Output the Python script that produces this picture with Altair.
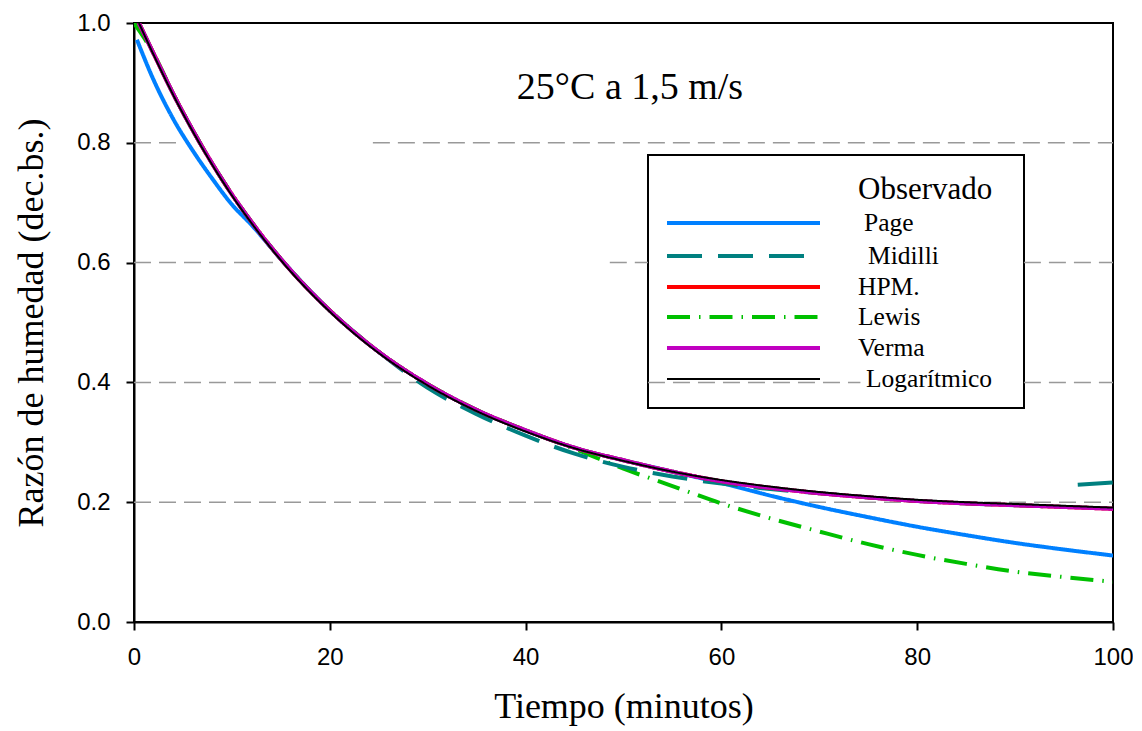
import altair as alt
import pandas as pd

# ---------------- data ----------------
t_std = [0.5, 2, 4, 6, 8, 10, 12, 15, 20, 25, 30, 35, 40, 45, 50, 55, 60, 65, 70, 75, 80, 85, 90, 95, 100]

logaritmico = [1.000, 0.947, 0.880, 0.819, 0.763, 0.712, 0.666, 0.604, 0.518, 0.449, 0.395, 0.352, 0.318,
               0.290, 0.269, 0.251, 0.237, 0.226, 0.217, 0.210, 0.204, 0.200, 0.197, 0.194, 0.191]
verma = [1.000, 0.949, 0.882, 0.821, 0.765, 0.714, 0.668, 0.606, 0.520, 0.451, 0.397, 0.354, 0.320,
         0.291, 0.270, 0.251, 0.235, 0.224, 0.215, 0.208, 0.202, 0.198, 0.195, 0.192, 0.189]
hpm = [1.000, 0.949, 0.882, 0.821, 0.765, 0.714, 0.668, 0.606, 0.520, 0.451, 0.397, 0.354, 0.320,
       0.291, 0.270, 0.251, 0.235, 0.224, 0.215, 0.208, 0.202, 0.198, 0.195, 0.192, 0.189]

t_page = [0.3, 2, 4, 6, 8, 10, 12, 15, 20, 25, 30, 35, 40, 45, 50, 55, 60, 65, 70, 75, 80, 85, 90, 95, 100]
page = [0.972, 0.905, 0.840, 0.787, 0.740, 0.697, 0.663, 0.606, 0.520, 0.451, 0.397, 0.354, 0.320,
        0.291, 0.270, 0.251, 0.232, 0.211, 0.192, 0.175, 0.159, 0.145, 0.132, 0.121, 0.111]

t_lewis = [0, 2, 4, 6, 8, 10, 12, 15, 20, 25, 30, 35, 40, 45, 50, 55, 60, 65, 70, 75, 80, 85, 90, 95, 100]
lewis = [1.000, 0.949, 0.882, 0.821, 0.765, 0.714, 0.668, 0.606, 0.520, 0.451, 0.397, 0.354, 0.320,
         0.289, 0.256, 0.227, 0.198, 0.173, 0.151, 0.130, 0.112, 0.097, 0.084, 0.075, 0.067]

t_midilli = [0.5, 2, 4, 6, 8, 10, 12, 15, 20, 25, 30, 35, 40, 45, 50, 55, 60, 65, 70, 75, 80, 85, 90, 95,
             96.4, 100]
midilli = [1.000, 0.949, 0.882, 0.821, 0.765, 0.714, 0.668, 0.606, 0.520, 0.451, 0.391, 0.347, 0.311,
           0.281, 0.259, 0.243, 0.231, 0.222, 0.215, 0.208, 0.202, 0.198, 0.195, 0.192,
           0.229, 0.233]
midilli_seg = [1] * 24 + [2] * 2

# dashed reference lines (visible pieces)
grid_y = [0.8, 0.8, 0.6, 0.6, 0.6, 0.4, 0.4, 0.4, 0.2]
grid_x1 = [0, 24.4, 0, 48.6, 90.9, 0, 52.5, 90.9, 0]
grid_x2 = [5.0, 100, 14.2, 52.5, 100, 28.9, 74.2, 100, 100]

legend_names = ["Page", "Midilli", "HPM.", "Lewis", "Verma", "Logarítmico"]
legend_title = "Observado"
x_ticks = [0, 20, 40, 60, 80, 100]
y_ticks = [0.0, 0.2, 0.4, 0.6, 0.8, 1.0]
annotation = "25°C a 1,5 m/s"

# ---------------- styles ----------------
styles = {
    "Page": dict(color="#0080FF", width=4, dash=[1, 0]),
    "Midilli": dict(color="#008080", width=4, dash=[35, 16]),
    "HPM.": dict(color="#FF0000", width=4, dash=[1, 0]),
    "Lewis": dict(color="#00C000", width=4, dash=[23, 9, 1.5, 9]),
    "Verma": dict(color="#C000C0", width=4, dash=[1, 0]),
    "Logarítmico": dict(color="#000000", width=2, dash=[1, 0]),
}

x_axis = alt.Axis(values=x_ticks, title="Tiempo (minutos)", grid=False, tickSize=8, tickWidth=2,
                  tickColor="black", domainColor="black", domainWidth=2, labelFont="Liberation Sans",
                  labelFontSize=24, labelColor="black", labelPadding=15, labelFlush=False,
                  titleFont="Liberation Serif", titleFontSize=36, titleFontWeight="normal",
                  titleColor="black", titlePadding=20)
y_axis = alt.Axis(values=y_ticks, format=".1f", title="Razón de humedad (dec.bs.)", grid=False,
                  tickSize=8, tickWidth=2, tickColor="black", domainColor="black", domainWidth=2,
                  labelFont="Liberation Sans", labelFontSize=24, labelColor="black", labelPadding=16,
                  labelFlush=False, titleFont="Liberation Serif", titleFontSize=36,
                  titleFontWeight="normal", titleColor="black", titlePadding=26)
x_scale = alt.Scale(domain=[0, 100], nice=False)
y_scale = alt.Scale(domain=[0, 1], nice=False)


def xe(field):
    return alt.X(f"{field}:Q", scale=x_scale, axis=x_axis)


def ye(field):
    return alt.Y(f"{field}:Q", scale=y_scale, axis=y_axis)


def series_layer(ts, vals, name, seg=None):
    st = styles[name]
    df = pd.DataFrame({"t": ts, "v": vals, "seg": seg if seg else [1] * len(ts)})
    return alt.Chart(df).mark_line(
        color=st["color"], strokeWidth=st["width"], strokeDash=st["dash"],
        interpolate="monotone", clip=True
    ).encode(x=xe("t"), y=ye("v"), detail="seg:N", order="t:Q")


# legend box (pixel layout inside the plot)
box = alt.Chart(pd.DataFrame({"a": [0]})).mark_rect(
    fill="white", stroke="black", strokeWidth=2
).encode(x=alt.value(514), x2=alt.value(890), y=alt.value(132), y2=alt.value(385))

grid_df = pd.DataFrame({"gy": grid_y, "gx1": grid_x1, "gx2": grid_x2})
grid = alt.Chart(grid_df).mark_rule(color="#999999", strokeWidth=1.5, strokeDash=[17, 8]).encode(
    x=xe("gx1"), x2="gx2:Q", y=ye("gy")
)

layers = [
    box,
    grid,
    series_layer(t_page, page, "Page"),
    series_layer(t_lewis, lewis, "Lewis"),
    series_layer(t_midilli, midilli, "Midilli", midilli_seg),
    series_layer(t_std, hpm, "HPM."),
    series_layer(t_std, verma, "Verma"),
    series_layer(t_std, logaritmico, "Logarítmico"),
]

row_y = [200, 233, 264, 294, 325, 356]
label_x = [730, 734, 724, 724, 724, 732]
for name, yy, lx in zip(legend_names, row_y, label_x):
    st = styles[name]
    layers.append(
        alt.Chart(pd.DataFrame({"n": [name]})).mark_rule(
            color=st["color"], strokeWidth=st["width"], strokeDash=st["dash"]
        ).encode(x=alt.value(533), x2=alt.value(686), y=alt.value(yy))
    )
    layers.append(
        alt.Chart(pd.DataFrame({"n": [name]})).mark_text(
            font="Liberation Serif", fontSize=25.5, color="black", align="left", baseline="middle"
        ).encode(text="n:N", x=alt.value(lx), y=alt.value(yy))
    )

layers.append(
    alt.Chart(pd.DataFrame({"n": [legend_title]})).mark_text(
        font="Liberation Serif", fontSize=31, color="black", align="left", baseline="middle"
    ).encode(text="n:N", x=alt.value(724), y=alt.value(167))
)
layers.append(
    alt.Chart(pd.DataFrame({"n": [annotation]})).mark_text(
        font="Liberation Serif", fontSize=38, color="black", align="center", baseline="middle"
    ).encode(text="n:N", x=alt.value(496), y=alt.value(65))
)

chart = alt.layer(*layers).properties(
    width=979, height=599,
    autosize=alt.AutoSizeParams(type="none"),
    padding={"left": 126, "top": 15, "right": 20, "bottom": 108},
).configure_view(stroke="black", strokeWidth=2)

chart.save("out.html", embed_options={"renderer": "svg", "actions": False})
